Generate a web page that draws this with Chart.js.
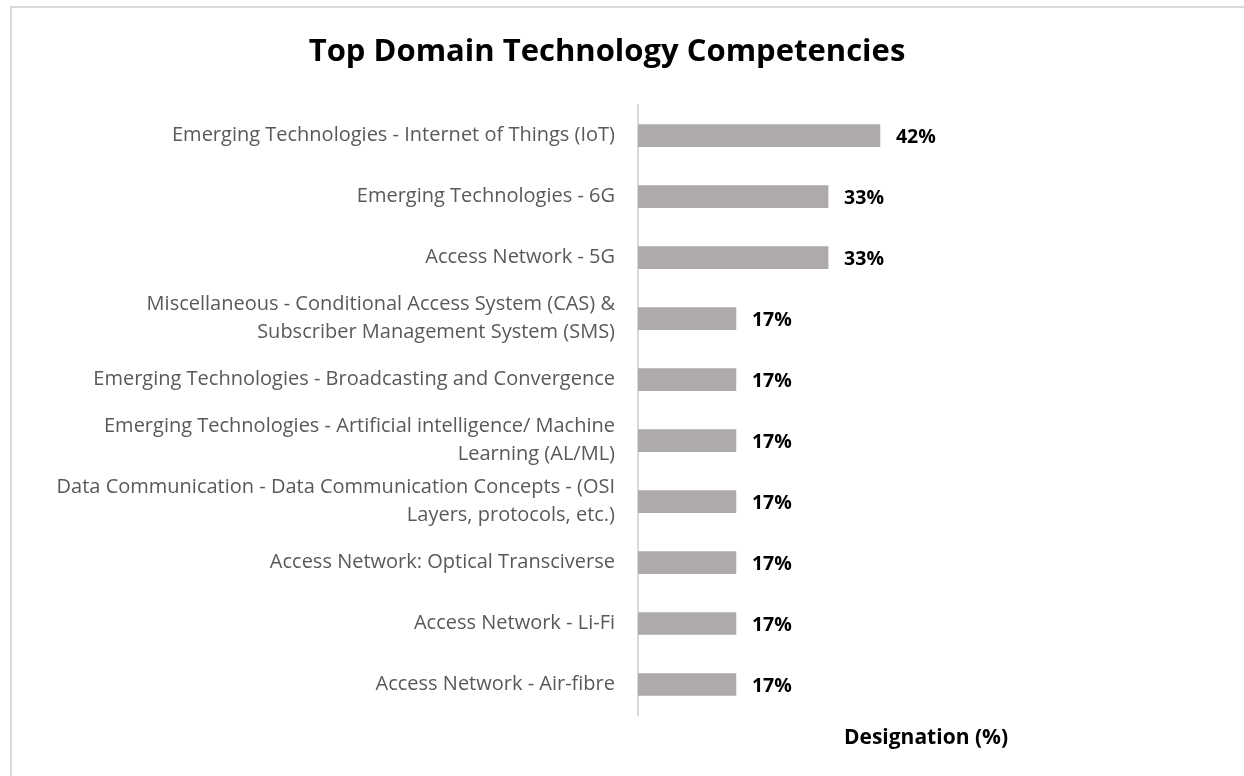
<!DOCTYPE html>
<html>
<head>
<meta charset="utf-8">
<script src="https://cdn.jsdelivr.net/npm/chart.js@4/dist/chart.umd.min.js"></script>
<style>
  html, body { margin: 0; padding: 0; background: #fff; }
  #wrap { width: 1244px; height: 776px; }
</style>
</head>
<body>
<div id="wrap"><canvas id="domainChart"></canvas></div>
<script>
const categories = [
  "Emerging Technologies - Internet of Things (IoT)",
  "Emerging Technologies - 6G",
  "Access Network - 5G",
  ["Miscellaneous - Conditional Access System (CAS) &", "Subscriber Management System (SMS)"],
  "Emerging Technologies - Broadcasting and Convergence",
  ["Emerging Technologies - Artificial intelligence/ Machine", "Learning (AL/ML)"],
  ["Data Communication - Data Communication Concepts - (OSI", "Layers, protocols, etc.)"],
  "Access Network: Optical Transciverse",
  "Access Network - Li-Fi",
  "Access Network - Air-fibre"
];
const designation = [42, 33, 33, 17, 17, 17, 17, 17, 17, 17];

document.addEventListener("DOMContentLoaded", function () {
  const canvas = document.getElementById("domainChart");
  const ctx = canvas.getContext("2d");

  // frame + value labels
  const extras = {
    id: "extras",
    beforeDraw(chart) {
      const c = chart.ctx;
      c.save();
      c.strokeStyle = "#d9d9d9";
      c.lineWidth = 2;
      c.strokeRect(11, 7, 1300, 900);
      c.restore();
    },
    afterDatasetsDraw(chart) {
      const c = chart.ctx;
      const meta = chart.getDatasetMeta(0);
      c.save();
      c.font = "bold 19.5px 'Open Sans'";
      c.fillStyle = "#000";
      c.textBaseline = "middle";
      meta.data.forEach(function (bar, i) {
        c.fillText(designation[i] + "%", bar.x + 16, bar.y + 2);
      });
      c.restore();
    }
  };

  new Chart(ctx, {
    type: "bar",
    data: {
      labels: categories,
      datasets: [
        {
          data: designation,
          backgroundColor: "#aeaaaa",
          barThickness: 22,
        },
      ],
    },
    plugins: [extras],
    options: {
      indexAxis: "y",
      responsive: true,
      maintainAspectRatio: false,
      animation: false,
      layout: { padding: { left: 0, right: 30, top: 0, bottom: 21 } },
      scales: {
        x: {
          min: 0,
          max: 100,
          grid: { display: false },
          border: { display: false },
          ticks: { display: false },
          title: {
            display: true,
            text: "Designation (%)",
            color: "#000",
            font: { family: "Open Sans", size: 21, weight: "bold" },
          },
          afterFit(scale) { scale.height = 40; },
        },
        y: {
          grid: { display: false },
          border: { color: "#d9d9d9", width: 2 },
          ticks: {
            color: "#595959",
            font: { family: "Open Sans", size: 20, lineHeight: 1.4 },
            padding: 15,
            autoSkip: false,
          },
          afterFit(scale) { scale.width = 638; },
        },
      },
      plugins: {
        legend: { display: false },
        tooltip: { enabled: false },
        title: {
          display: true,
          text: "Top Domain Technology Competencies",
          color: "#000",
          font: { family: "Open Sans", size: 31, weight: "bold" },
          padding: { top: 34, bottom: 34 },
        },
      },
    },
  });
});
</script>
</body>
</html>
